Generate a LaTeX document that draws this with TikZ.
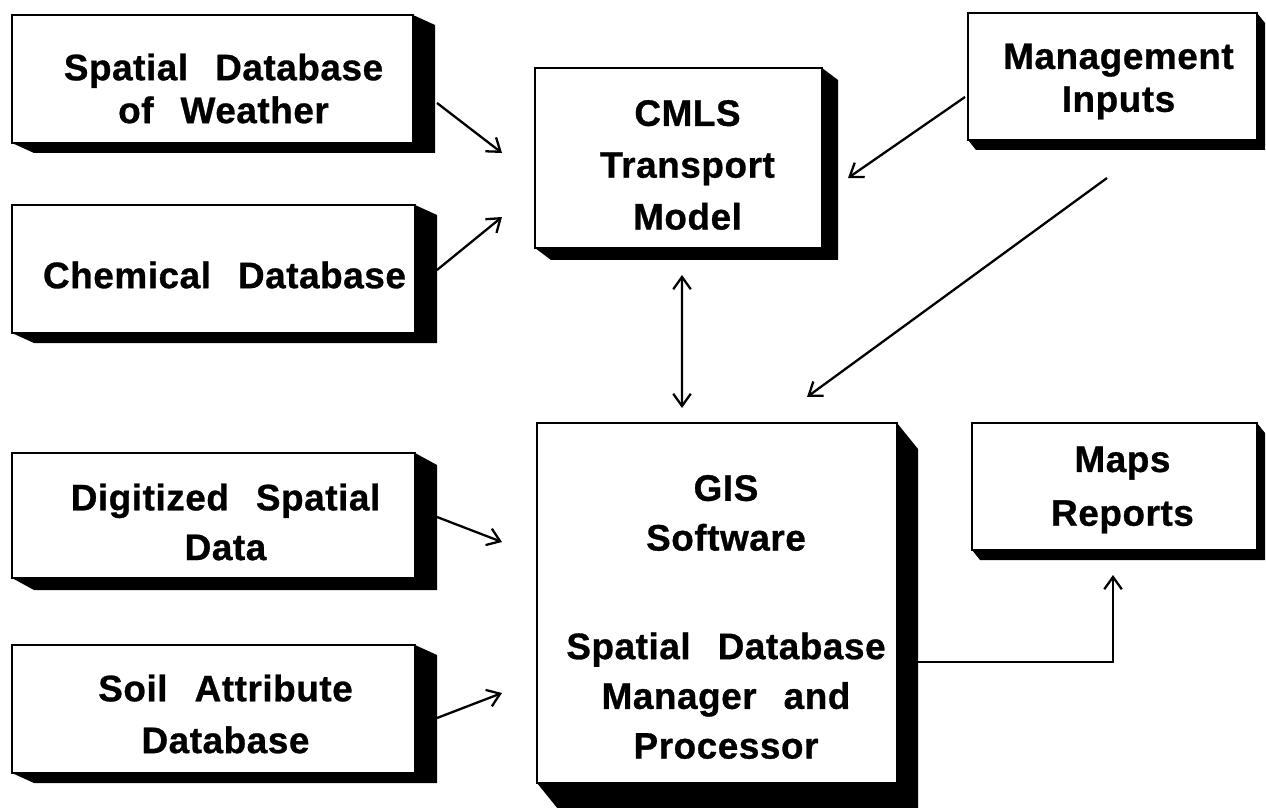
\documentclass[tikz,border=0pt]{standalone}
\usepackage{fontspec}
\setmainfont{Liberation Sans}[LetterSpace=1.5,WordSpace=2.5,BoldFeatures={FakeBold=0.8}]
\usetikzlibrary{arrows.meta,backgrounds}
\newcommand{\extrude}[3]{\fill[black] (#1.north east) -- ++(#2,#3) -- ([shift={(#2,#3)}]#1.south east) -- ([shift={(#2,#3)}]#1.south west) -- (#1.south west) -- cycle;}
\begin{document}
\begin{tikzpicture}[x=0.02cm,y=-0.02cm,
  box/.style={draw=black,fill=white,line width=1.4pt,outer sep=0pt,inner sep=0pt},
  txt/.style={inner sep=0pt,align=center,font=\bfseries\fontsize{21}{#1}\selectfont},
  txt/.default=28,
  arr/.style={line width=1.3pt,-{Straight Barb[length=7pt,width=10pt,line width=1.3pt]}},
  darr/.style={line width=1.3pt,{Straight Barb[length=7pt,width=10pt,line width=1.3pt]}-{Straight Barb[length=7pt,width=10pt,line width=1.3pt]}}]
\useasboundingbox (0,0) rectangle (1266,807);
% boxes
\node[box,minimum width=401*0.02cm,minimum height=128*0.02cm] (wea) at (212.5,79) {};
\node[box,minimum width=403*0.02cm,minimum height=128*0.02cm] (chem) at (213.5,269) {};
\node[box,minimum width=287*0.02cm,minimum height=180*0.02cm] (cmls) at (678.5,158) {};
\node[box,minimum width=289*0.02cm,minimum height=127*0.02cm] (mgmt) at (1112.5,76.5) {};
\node[box,minimum width=403*0.02cm,minimum height=125*0.02cm] (dig) at (213.5,515.5) {};
\node[box,minimum width=403*0.02cm,minimum height=128*0.02cm] (soil) at (213.5,709) {};
\node[box,minimum width=360*0.02cm,minimum height=360*0.02cm] (gis) at (717,603) {};
\node[box,minimum width=285*0.02cm,minimum height=127*0.02cm] (maps) at (1114.5,486.5) {};
% texts
\node[txt=24.4] (weat) at ([shift={(11,9.5)}]wea.center) {Spatial Database\\of Weather};
\node[txt] (chemt) at ([shift={(11,6)}]chem.center) {Chemical Database};
\node[txt=29.5] (cmlst) at ([shift={(9,7)}]cmls.center) {CMLS\\Transport\\Model};
\node[txt=24.4] (mgmtt) at ([shift={(6,5)}]mgmt.center) {Management\\Inputs};
\node[txt=28.3] (digt) at ([shift={(12,6.5)}]dig.center) {Digitized Spatial\\Data};
\node[txt=29.5] (soilt) at ([shift={(12,5)}]soil.center) {Soil Attribute\\Database};
\node[txt=28.3] (gist) at ([shift={(9,14)}]gis.center) {GIS\\Software\\[33.5pt]Spatial Database\\Manager and\\Processor};
\node[txt=30.6] (mapst) at ([shift={(8,3.5)}]maps.center) {Maps\\Reports};
\begin{scope}[on background layer]
\extrude{wea}{22}{10}
\extrude{chem}{22}{10}
\extrude{cmls}{16}{12}
\extrude{mgmt}{8}{10}
\extrude{dig}{22}{12}
\extrude{soil}{22}{10}
\extrude{gis}{21}{26}
\extrude{maps}{8}{10}
\end{scope}
\draw[arr] ([shift={(24,24)}]wea.east) -- ([shift={(-33,-5)}]cmls.west);
\draw[arr] ([shift={(22,1)}]chem.east) -- ([shift={(-33,59)}]cmls.west);
\draw[arr] ([shift={(-3,20.5)}]mgmt.west) -- ([shift={(26,20)}]cmls.east);
\draw[arr] ([shift={(-5.5,38)}]mgmt.south) -- ([shift={(90,-26)}]gis.north);
\draw[darr] ([shift={(3.5,27)}]cmls.south) -- ([shift={(-35,-15)}]gis.north);
\draw[arr] ([shift={(22,1.5)}]dig.east) -- ([shift={(-35,-61)}]gis.west);
\draw[arr] ([shift={(22,9)}]soil.east) -- ([shift={(-35,90)}]gis.west);
\draw[arr] ([shift={(21,59)}]gis.east) -| ([shift={(-1.5,25)}]maps.south);
\end{tikzpicture}
\end{document}
